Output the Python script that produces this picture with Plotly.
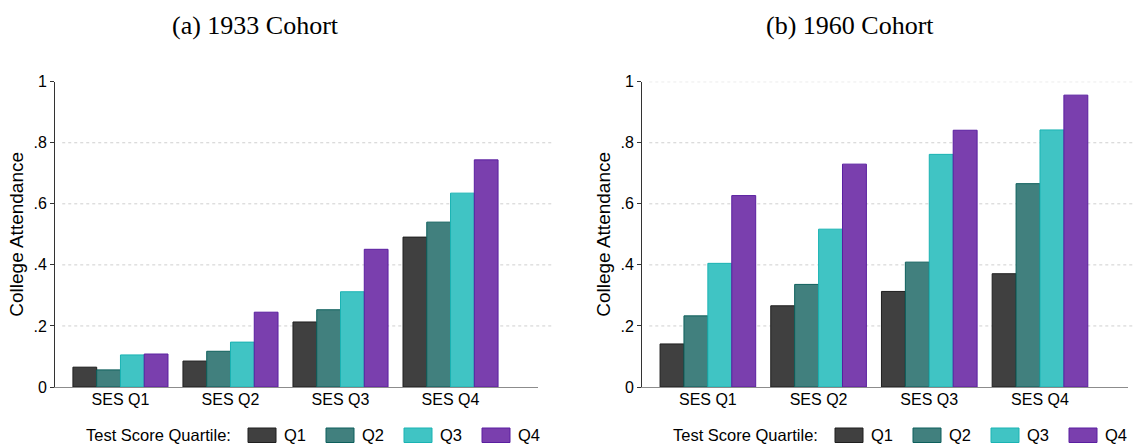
import plotly.graph_objects as go

W, H = 1133, 445

categories = ["SES Q1", "SES Q2", "SES Q3", "SES Q4"]
quartiles = ["Q1", "Q2", "Q3", "Q4"]

# College attendance, rows = test score quartile, columns = SES quartile
cohort_1933 = {
    "Q1": [0.065, 0.085, 0.213, 0.491],
    "Q2": [0.056, 0.117, 0.253, 0.540],
    "Q3": [0.105, 0.147, 0.312, 0.635],
    "Q4": [0.108, 0.245, 0.451, 0.744],
}
cohort_1960 = {
    "Q1": [0.141, 0.266, 0.313, 0.371],
    "Q2": [0.233, 0.336, 0.409, 0.666],
    "Q3": [0.405, 0.517, 0.762, 0.842],
    "Q4": [0.627, 0.730, 0.841, 0.956],
}

panel_titles = ["(a) 1933 Cohort", "(b) 1960 Cohort"]
y_tickvals = [0, 0.2, 0.4, 0.6, 0.8, 1]
y_ticktext = ["0", ".2", ".4", ".6", ".8", "1"]
legend_title = "Test Score Quartile:"
y_title = "College Attendance"

fills = ["#404040", "#41807e", "#40c4c4", "#7a3fae"]
edges = ["#1f1f1f", "#0d5f5c", "#1ab3b3", "#5a1fa0"]

SANS = "Liberation Sans, Arial, Helvetica, sans-serif"
SERIF = "Liberation Serif, Times New Roman, serif"

fig = go.Figure()

panels = [cohort_1933, cohort_1960]
axes = [("x", "y"), ("x2", "y2")]
for p, data in enumerate(panels):
    xa, ya = axes[p]
    for i, q in enumerate(quartiles):
        fig.add_trace(go.Bar(
            x=categories, y=data[q], name=q,
            marker=dict(color=fills[i], line=dict(color=edges[i], width=1)),
            xaxis=xa, yaxis=ya, showlegend=False, hoverinfo="skip",
        ))

# pixel-based domains
def px_x(v):
    return v / W

def px_y(v):
    return (H - v) / H

x_domains = [[px_x(55), px_x(538)], [px_x(642), px_x(1128)]]
y_domain = [px_y(387), px_y(81.7)]

common_x = dict(
    type="category", range=[-0.595, 3.795], showline=True, linecolor="#8c8c8c",
    linewidth=1, ticks="", showgrid=False, zeroline=False, automargin=False,
    tickfont=dict(family=SANS, size=16, color="#000"), ticklabelstandoff=-2,
)
common_y = dict(
    range=[0, 1], showline=True, linecolor="#333333", linewidth=1, ticks="outside",
    ticklen=4, tickcolor="#333333", tickvals=y_tickvals, ticktext=y_ticktext,
    showgrid=False, zeroline=False, automargin=False,
    tickfont=dict(family=SANS, size=16, color="#000"),
    title=dict(text=y_title, font=dict(family=SANS, size=19, color="#000"), standoff=4),
)

fig.update_layout(
    width=W, height=H,
    margin=dict(l=0, r=0, t=0, b=0),
    paper_bgcolor="white", plot_bgcolor="white",
    barmode="group", bargap=0.136, bargroupgap=0,
    xaxis=dict(domain=x_domains[0], anchor="y", **common_x),
    xaxis2=dict(domain=x_domains[1], anchor="y2", **common_x),
    yaxis=dict(domain=y_domain, anchor="x", **common_y),
    yaxis2=dict(domain=y_domain, anchor="x2", **common_y),
)

shapes = []
annotations = []

# dotted grid lines (left panel has none at 1)
grid_vals = [[0.2, 0.4, 0.6, 0.8], [0.2, 0.4, 0.6, 0.8, 1.0]]
for p in range(2):
    xa, ya = axes[p]
    for gv in grid_vals[p]:
        shapes.append(dict(
            type="line", xref=f"{xa} domain", yref=ya, x0=0.015, x1=1.03, y0=gv, y1=gv,
            line=dict(color="#cfcfcf", width=1, dash="dot"), layer="below",
        ))

# panel titles
title_x = [255, 850]
for p in range(2):
    annotations.append(dict(
        text=panel_titles[p], xref="paper", yref="paper", x=px_x(title_x[p]), y=px_y(25),
        xanchor="center", yanchor="middle", showarrow=False,
        font=dict(family=SERIF, size=26, color="#000"),
    ))

# legends
legend_offsets = [0, 587]
box_start, box_step, box_w = 248, 78, 28
text_y = 434.5
for p in range(2):
    off = legend_offsets[p]
    annotations.append(dict(
        text=legend_title, xref="paper", yref="paper", x=px_x(off + 233), y=px_y(text_y),
        xanchor="right", yanchor="middle", showarrow=False,
        font=dict(family=SANS, size=16.5, color="#000"),
    ))
    for i, q in enumerate(quartiles):
        x0 = off + box_start + i * box_step
        shapes.append(dict(
            type="rect", xref="paper", yref="paper",
            x0=px_x(x0), x1=px_x(x0 + box_w), y0=px_y(442.5), y1=px_y(428),
            fillcolor=fills[i], line=dict(color=edges[i], width=1),
        ))
        annotations.append(dict(
            text=q, xref="paper", yref="paper", x=px_x(x0 + box_w + 6), y=px_y(text_y),
            xanchor="left", yanchor="middle", showarrow=False,
            font=dict(family=SANS, size=16.5, color="#000"),
        ))

fig.update_layout(shapes=shapes, annotations=annotations)

fig.write_html(
    "out.html",
    config={"displayModeBar": False, "staticPlot": True},
    post_script="document.body.style.margin='0';document.body.style.overflow='hidden';",
)
